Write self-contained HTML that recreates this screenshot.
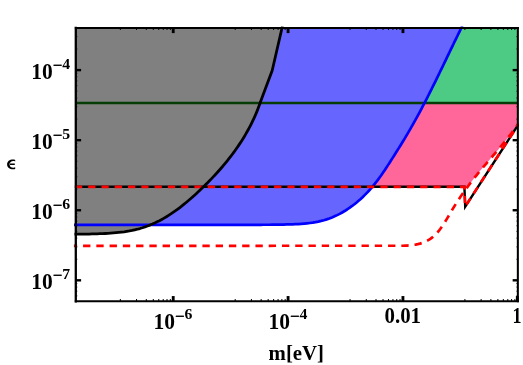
<!DOCTYPE html>
<html><head><meta charset="utf-8"><style>
html,body{margin:0;padding:0;background:#fff;}
svg{display:block;}
text{font-family:"Liberation Serif",serif;font-weight:bold;fill:#000;}
</style></head><body>
<svg width="523" height="365" viewBox="0 0 523 365">
<defs><clipPath id="cf"><rect x="75.9" y="27.9" width="441.95000000000005" height="273.35"/></clipPath><filter id="gs" filterUnits="userSpaceOnUse" x="0" y="0" width="523" height="365"><feOffset dx="0" dy="0"/></filter><clipPath id="c"><rect x="73.9" y="26.4" width="444.75000000000006" height="274.85"/></clipPath></defs>
<rect width="523" height="365" fill="#fff"/>
<g clip-path="url(#cf)">
<path d="M74.00,224.80 L255.17,224.80 L257.92,224.79 L260.70,224.78 L263.51,224.77 L266.35,224.75 L269.20,224.73 L272.07,224.70 L274.96,224.67 L277.86,224.63 L280.77,224.58 L283.69,224.53 L286.61,224.47 L289.54,224.40 L292.47,224.33 L295.39,224.22 L298.31,224.08 L301.22,223.89 L304.12,223.66 L307.01,223.37 L309.88,223.02 L312.73,222.61 L315.56,222.12 L318.36,221.56 L321.15,220.92 L323.90,220.19 L326.62,219.37 L329.30,218.45 L331.95,217.43 L334.56,216.32 L337.14,215.12 L339.68,213.84 L342.18,212.47 L344.64,211.02 L347.06,209.49 L349.44,207.89 L351.78,206.22 L354.08,204.48 L356.33,202.68 L358.54,200.82 L360.71,198.90 L362.82,196.93 L364.90,194.90 L366.92,192.83 L368.90,190.71 L370.83,188.56 L372.71,186.36 L374.54,184.13 L376.33,181.87 L378.07,179.58 L379.78,177.26 L381.45,174.92 L383.09,172.56 L384.70,170.18 L386.29,167.79 L387.86,165.38 L389.42,162.96 L390.96,160.53 L392.50,158.10 L394.04,155.67 L395.57,153.24 L397.11,150.81 L398.64,148.37 L400.16,145.93 L401.67,143.49 L403.18,141.04 L404.67,138.58 L406.14,136.11 L407.61,133.64 L409.06,131.16 L410.50,128.67 L411.93,126.17 L413.35,123.67 L414.75,121.16 L416.14,118.64 L417.53,116.12 L418.90,113.59 L420.26,111.05 L421.61,108.51 L422.95,105.97 L424.28,103.42 L425.60,100.86 L426.92,98.30 L428.22,95.74 L429.52,93.17 L430.81,90.60 L432.10,88.02 L433.38,85.44 L434.66,82.86 L435.93,80.28 L437.20,77.69 L438.46,75.10 L439.72,72.52 L440.97,69.92 L442.23,67.33 L443.48,64.74 L444.73,62.14 L445.98,59.55 L447.23,56.96 L448.47,54.36 L449.72,51.77 L450.97,49.18 L452.22,46.58 L453.48,43.99 L454.73,41.40 L455.99,38.82 L457.25,36.23 L458.51,33.65 L459.78,31.07 L461.05,28.49 L462.33,25.92 L75.90,27.90 L75.90,224.80 Z" fill="#6666ff"/>
<path d="M424.52,102.95 L425.60,100.86 L426.92,98.30 L428.22,95.74 L429.52,93.17 L430.81,90.60 L432.10,88.02 L433.38,85.44 L434.66,82.86 L435.93,80.28 L437.20,77.69 L438.46,75.10 L439.72,72.52 L440.97,69.92 L442.23,67.33 L443.48,64.74 L444.73,62.14 L445.98,59.55 L447.23,56.96 L448.47,54.36 L449.72,51.77 L450.97,49.18 L452.22,46.58 L453.48,43.99 L454.73,41.40 L455.99,38.82 L457.25,36.23 L458.51,33.65 L459.78,31.07 L461.05,28.49 L462.33,25.92 L517.85,27.90 L517.85,102.95 Z" fill="#4dcb84"/>
<path d="M372.34,186.80 L467.57,186.80 L468.37,185.72 L469.58,184.11 L470.80,182.50 L472.04,180.89 L473.28,179.29 L474.54,177.70 L475.81,176.11 L477.09,174.53 L478.38,172.95 L479.68,171.37 L480.99,169.80 L482.31,168.23 L483.63,166.66 L484.96,165.09 L486.30,163.53 L487.64,161.96 L488.98,160.40 L490.32,158.84 L491.67,157.27 L493.01,155.71 L494.36,154.14 L495.70,152.57 L497.04,151.00 L498.37,149.43 L499.70,147.85 L501.03,146.27 L502.34,144.69 L503.65,143.10 L504.95,141.50 L506.24,139.91 L507.52,138.30 L508.78,136.69 L510.04,135.07 L511.28,133.45 L512.50,131.82 L513.71,130.18 L514.90,128.53 L516.07,126.87 L517.23,125.21 L518.36,123.53 L517.85,123.53 L517.85,102.95 L424.52,102.95 L424.28,103.42 L422.95,105.97 L421.61,108.51 L420.26,111.05 L418.90,113.59 L417.53,116.12 L416.14,118.64 L414.75,121.16 L413.35,123.67 L411.93,126.17 L410.50,128.67 L409.06,131.16 L407.61,133.64 L406.14,136.11 L404.67,138.58 L403.18,141.04 L401.67,143.49 L400.16,145.93 L398.64,148.37 L397.11,150.81 L395.57,153.24 L394.04,155.67 L392.50,158.10 L390.96,160.53 L389.42,162.96 L387.86,165.38 L386.29,167.79 L384.70,170.18 L383.09,172.56 L381.45,174.92 L379.78,177.26 L378.07,179.58 L376.33,181.87 L374.54,184.13 L372.71,186.36 Z" fill="#ff6699"/>
<path d="M74.50,234.15 L80.00,234.15 L84.13,234.16 L86.71,234.09 L89.31,234.03 L91.93,233.96 L94.57,233.89 L97.23,233.81 L99.89,233.72 L102.57,233.61 L105.26,233.48 L107.96,233.34 L110.66,233.16 L113.37,232.96 L116.07,232.72 L118.77,232.45 L121.47,232.14 L124.16,231.79 L126.83,231.38 L129.49,230.93 L132.13,230.42 L134.76,229.85 L137.35,229.23 L139.93,228.53 L142.47,227.77 L144.98,226.94 L147.47,226.04 L149.92,225.08 L152.35,224.06 L154.76,222.98 L157.13,221.84 L159.48,220.65 L161.80,219.40 L164.10,218.10 L166.38,216.76 L168.63,215.36 L170.86,213.92 L173.06,212.44 L175.25,210.92 L177.41,209.36 L179.55,207.76 L181.67,206.13 L183.77,204.46 L185.85,202.77 L187.91,201.05 L189.95,199.30 L191.98,197.52 L193.99,195.73 L195.98,193.91 L197.96,192.08 L199.92,190.23 L201.86,188.36 L203.79,186.49 L205.71,184.60 L207.61,182.70 L209.49,180.78 L211.36,178.85 L213.20,176.91 L215.03,174.95 L216.84,172.98 L218.63,170.99 L220.40,168.99 L222.15,166.97 L223.88,164.93 L225.58,162.88 L227.26,160.81 L228.92,158.73 L230.56,156.63 L232.17,154.51 L233.75,152.38 L235.31,150.22 L236.84,148.05 L238.35,145.86 L239.82,143.65 L241.27,141.43 L242.69,139.18 L244.08,136.91 L245.45,134.63 L246.78,132.32 L248.07,130.00 L249.34,127.65 L250.57,125.28 L251.78,122.89 L252.94,120.48 L254.07,118.05 L255.17,115.60 L256.23,113.12 L257.26,110.62 L258.25,108.10 L259.20,105.55 L260.11,102.99 L260.99,100.39 L272.20,70.50 L282.40,26.30 L75.90,27.90 Z" fill="#808080"/>
</g>
<g clip-path="url(#c)">
<line x1="75.9" y1="102.95" x2="517.85" y2="102.95" stroke="#063d06" stroke-width="2.5"/>
<path d="M74.00,224.80 L255.17,224.80 L257.92,224.79 L260.70,224.78 L263.51,224.77 L266.35,224.75 L269.20,224.73 L272.07,224.70 L274.96,224.67 L277.86,224.63 L280.77,224.58 L283.69,224.53 L286.61,224.47 L289.54,224.40 L292.47,224.33 L295.39,224.22 L298.31,224.08 L301.22,223.89 L304.12,223.66 L307.01,223.37 L309.88,223.02 L312.73,222.61 L315.56,222.12 L318.36,221.56 L321.15,220.92 L323.90,220.19 L326.62,219.37 L329.30,218.45 L331.95,217.43 L334.56,216.32 L337.14,215.12 L339.68,213.84 L342.18,212.47 L344.64,211.02 L347.06,209.49 L349.44,207.89 L351.78,206.22 L354.08,204.48 L356.33,202.68 L358.54,200.82 L360.71,198.90 L362.82,196.93 L364.90,194.90 L366.92,192.83 L368.90,190.71 L370.83,188.56 L372.71,186.36 L374.54,184.13 L376.33,181.87 L378.07,179.58 L379.78,177.26 L381.45,174.92 L383.09,172.56 L384.70,170.18 L386.29,167.79 L387.86,165.38 L389.42,162.96 L390.96,160.53 L392.50,158.10 L394.04,155.67 L395.57,153.24 L397.11,150.81 L398.64,148.37 L400.16,145.93 L401.67,143.49 L403.18,141.04 L404.67,138.58 L406.14,136.11 L407.61,133.64 L409.06,131.16 L410.50,128.67 L411.93,126.17 L413.35,123.67 L414.75,121.16 L416.14,118.64 L417.53,116.12 L418.90,113.59 L420.26,111.05 L421.61,108.51 L422.95,105.97 L424.28,103.42 L425.60,100.86 L426.92,98.30 L428.22,95.74 L429.52,93.17 L430.81,90.60 L432.10,88.02 L433.38,85.44 L434.66,82.86 L435.93,80.28 L437.20,77.69 L438.46,75.10 L439.72,72.52 L440.97,69.92 L442.23,67.33 L443.48,64.74 L444.73,62.14 L445.98,59.55 L447.23,56.96 L448.47,54.36 L449.72,51.77 L450.97,49.18 L452.22,46.58 L453.48,43.99 L454.73,41.40 L455.99,38.82 L457.25,36.23 L458.51,33.65 L459.78,31.07 L461.05,28.49 L462.33,25.92" fill="none" stroke="#0000ff" stroke-width="2.7" stroke-linejoin="round"/>
<path d="M74.90,186.80 L464.4,186.80 L465.2,206.6 L518.3,124.6" fill="none" stroke="#000" stroke-width="2.4" stroke-linejoin="miter" stroke-miterlimit="10"/>
<path d="M74.90,186.80 L464.4,186.80 L465.2,206.6 L518.3,124.6" fill="none" stroke="#ff0000" stroke-width="2.7" stroke-dasharray="7.25 6.03" stroke-dashoffset="0"/>
<path d="M74.50,234.15 L80.00,234.15 L84.13,234.16 L86.71,234.09 L89.31,234.03 L91.93,233.96 L94.57,233.89 L97.23,233.81 L99.89,233.72 L102.57,233.61 L105.26,233.48 L107.96,233.34 L110.66,233.16 L113.37,232.96 L116.07,232.72 L118.77,232.45 L121.47,232.14 L124.16,231.79 L126.83,231.38 L129.49,230.93 L132.13,230.42 L134.76,229.85 L137.35,229.23 L139.93,228.53 L142.47,227.77 L144.98,226.94 L147.47,226.04 L149.92,225.08 L152.35,224.06 L154.76,222.98 L157.13,221.84 L159.48,220.65 L161.80,219.40 L164.10,218.10 L166.38,216.76 L168.63,215.36 L170.86,213.92 L173.06,212.44 L175.25,210.92 L177.41,209.36 L179.55,207.76 L181.67,206.13 L183.77,204.46 L185.85,202.77 L187.91,201.05 L189.95,199.30 L191.98,197.52 L193.99,195.73 L195.98,193.91 L197.96,192.08 L199.92,190.23 L201.86,188.36 L203.79,186.49 L205.71,184.60 L207.61,182.70 L209.49,180.78 L211.36,178.85 L213.20,176.91 L215.03,174.95 L216.84,172.98 L218.63,170.99 L220.40,168.99 L222.15,166.97 L223.88,164.93 L225.58,162.88 L227.26,160.81 L228.92,158.73 L230.56,156.63 L232.17,154.51 L233.75,152.38 L235.31,150.22 L236.84,148.05 L238.35,145.86 L239.82,143.65 L241.27,141.43 L242.69,139.18 L244.08,136.91 L245.45,134.63 L246.78,132.32 L248.07,130.00 L249.34,127.65 L250.57,125.28 L251.78,122.89 L252.94,120.48 L254.07,118.05 L255.17,115.60 L256.23,113.12 L257.26,110.62 L258.25,108.10 L259.20,105.55 L260.11,102.99 L260.99,100.39 L272.20,70.50 L282.40,26.30" fill="none" stroke="#000" stroke-width="2.8" stroke-linejoin="round"/>
<path d="M69.80,245.80 L395.13,245.76 L396.97,245.78 L398.89,245.79 L400.88,245.78 L402.92,245.74 L405.01,245.67 L407.13,245.56 L409.26,245.41 L411.41,245.20 L413.55,244.92 L415.68,244.58 L417.77,244.16 L419.83,243.66 L421.83,243.07 L423.76,242.38 L425.62,241.58 L427.40,240.68 L429.10,239.68 L430.72,238.58 L432.28,237.39 L433.77,236.12 L435.20,234.77 L436.57,233.35 L437.89,231.87 L439.17,230.32 L440.40,228.73 L441.60,227.08 L442.76,225.40 L443.89,223.68 L445.00,221.93 L446.09,220.16 L447.16,218.37 L448.22,216.57 L449.28,214.76 L450.34,212.96 L451.39,211.17 L452.46,209.38 L453.53,207.61 L454.62,205.86 L455.71,204.12 L456.81,202.39 L457.92,200.68 L459.04,198.97 L460.17,197.28 L461.31,195.60 L462.46,193.93 L463.62,192.27 L464.79,190.62 L465.97,188.98 L467.16,187.35 L468.37,185.72 L469.58,184.11 L470.80,182.50 L472.04,180.89 L473.28,179.29 L474.54,177.70 L475.81,176.11 L477.09,174.53 L478.38,172.95 L479.68,171.37 L480.99,169.80 L482.31,168.23 L483.63,166.66 L484.96,165.09 L486.30,163.53 L487.64,161.96 L488.98,160.40 L490.32,158.84 L491.67,157.27 L493.01,155.71 L494.36,154.14 L495.70,152.57 L497.04,151.00 L498.37,149.43 L499.70,147.85 L501.03,146.27 L502.34,144.69 L503.65,143.10 L504.95,141.50 L506.24,139.91 L507.52,138.30 L508.78,136.69 L510.04,135.07 L511.28,133.45 L512.50,131.82 L513.71,130.18 L514.90,128.53 L516.07,126.87 L517.23,125.21 L518.36,123.53" fill="none" stroke="#ff0000" stroke-width="2.7" stroke-dasharray="7.35 5.91"/>
</g>
<g stroke="#000" stroke-linecap="square">
<line x1="75.80000000000001" y1="27.9" x2="75.80000000000001" y2="301.25" stroke-width="2.3"/>
<line x1="517.85" y1="27.9" x2="517.85" y2="301.25" stroke-width="2.05"/>
<line x1="75.9" y1="27.9" x2="517.85" y2="27.9" stroke-width="2.05"/>
<line x1="75.9" y1="301.25" x2="517.85" y2="301.25" stroke-width="2.15"/>
</g>
<line x1="517.30" y1="301.25" x2="517.30" y2="296.05" stroke="#000" stroke-width="2.85"/>
<line x1="464.92" y1="301.25" x2="464.92" y2="299.00" stroke="#000" stroke-width="1"/>
<line x1="464.92" y1="27.90" x2="464.92" y2="30.00" stroke="#000" stroke-width="1"/>
<line x1="481.14" y1="301.25" x2="481.14" y2="299.00" stroke="#000" stroke-width="1"/>
<line x1="481.14" y1="27.90" x2="481.14" y2="30.00" stroke="#000" stroke-width="1"/>
<line x1="490.89" y1="301.25" x2="490.89" y2="299.00" stroke="#000" stroke-width="1"/>
<line x1="490.89" y1="27.90" x2="490.89" y2="30.00" stroke="#000" stroke-width="1"/>
<line x1="497.88" y1="301.25" x2="497.88" y2="299.00" stroke="#000" stroke-width="1"/>
<line x1="497.88" y1="27.90" x2="497.88" y2="30.00" stroke="#000" stroke-width="1"/>
<line x1="503.34" y1="301.25" x2="503.34" y2="299.00" stroke="#000" stroke-width="1"/>
<line x1="503.34" y1="27.90" x2="503.34" y2="30.00" stroke="#000" stroke-width="1"/>
<line x1="507.81" y1="301.25" x2="507.81" y2="299.00" stroke="#000" stroke-width="1"/>
<line x1="507.81" y1="27.90" x2="507.81" y2="30.00" stroke="#000" stroke-width="1"/>
<line x1="511.60" y1="301.25" x2="511.60" y2="299.00" stroke="#000" stroke-width="1"/>
<line x1="511.60" y1="27.90" x2="511.60" y2="30.00" stroke="#000" stroke-width="1"/>
<line x1="514.89" y1="301.25" x2="514.89" y2="299.00" stroke="#000" stroke-width="1"/>
<line x1="514.89" y1="27.90" x2="514.89" y2="30.00" stroke="#000" stroke-width="1"/>
<line x1="402.94" y1="301.25" x2="402.94" y2="296.05" stroke="#000" stroke-width="2.85"/>
<line x1="402.94" y1="27.90" x2="402.94" y2="33.10" stroke="#000" stroke-width="2.85"/>
<line x1="350.06" y1="301.25" x2="350.06" y2="299.00" stroke="#000" stroke-width="1"/>
<line x1="350.06" y1="27.90" x2="350.06" y2="30.00" stroke="#000" stroke-width="1"/>
<line x1="366.28" y1="301.25" x2="366.28" y2="299.00" stroke="#000" stroke-width="1"/>
<line x1="366.28" y1="27.90" x2="366.28" y2="30.00" stroke="#000" stroke-width="1"/>
<line x1="376.03" y1="301.25" x2="376.03" y2="299.00" stroke="#000" stroke-width="1"/>
<line x1="376.03" y1="27.90" x2="376.03" y2="30.00" stroke="#000" stroke-width="1"/>
<line x1="383.02" y1="301.25" x2="383.02" y2="299.00" stroke="#000" stroke-width="1"/>
<line x1="383.02" y1="27.90" x2="383.02" y2="30.00" stroke="#000" stroke-width="1"/>
<line x1="388.48" y1="301.25" x2="388.48" y2="299.00" stroke="#000" stroke-width="1"/>
<line x1="388.48" y1="27.90" x2="388.48" y2="30.00" stroke="#000" stroke-width="1"/>
<line x1="392.95" y1="301.25" x2="392.95" y2="299.00" stroke="#000" stroke-width="1"/>
<line x1="392.95" y1="27.90" x2="392.95" y2="30.00" stroke="#000" stroke-width="1"/>
<line x1="396.74" y1="301.25" x2="396.74" y2="299.00" stroke="#000" stroke-width="1"/>
<line x1="396.74" y1="27.90" x2="396.74" y2="30.00" stroke="#000" stroke-width="1"/>
<line x1="400.03" y1="301.25" x2="400.03" y2="299.00" stroke="#000" stroke-width="1"/>
<line x1="400.03" y1="27.90" x2="400.03" y2="30.00" stroke="#000" stroke-width="1"/>
<line x1="288.08" y1="301.25" x2="288.08" y2="296.05" stroke="#000" stroke-width="2.85"/>
<line x1="288.08" y1="27.90" x2="288.08" y2="33.10" stroke="#000" stroke-width="2.85"/>
<line x1="235.20" y1="301.25" x2="235.20" y2="299.00" stroke="#000" stroke-width="1"/>
<line x1="235.20" y1="27.90" x2="235.20" y2="30.00" stroke="#000" stroke-width="1"/>
<line x1="251.42" y1="301.25" x2="251.42" y2="299.00" stroke="#000" stroke-width="1"/>
<line x1="251.42" y1="27.90" x2="251.42" y2="30.00" stroke="#000" stroke-width="1"/>
<line x1="261.17" y1="301.25" x2="261.17" y2="299.00" stroke="#000" stroke-width="1"/>
<line x1="261.17" y1="27.90" x2="261.17" y2="30.00" stroke="#000" stroke-width="1"/>
<line x1="268.16" y1="301.25" x2="268.16" y2="299.00" stroke="#000" stroke-width="1"/>
<line x1="268.16" y1="27.90" x2="268.16" y2="30.00" stroke="#000" stroke-width="1"/>
<line x1="273.62" y1="301.25" x2="273.62" y2="299.00" stroke="#000" stroke-width="1"/>
<line x1="273.62" y1="27.90" x2="273.62" y2="30.00" stroke="#000" stroke-width="1"/>
<line x1="278.09" y1="301.25" x2="278.09" y2="299.00" stroke="#000" stroke-width="1"/>
<line x1="278.09" y1="27.90" x2="278.09" y2="30.00" stroke="#000" stroke-width="1"/>
<line x1="281.88" y1="301.25" x2="281.88" y2="299.00" stroke="#000" stroke-width="1"/>
<line x1="281.88" y1="27.90" x2="281.88" y2="30.00" stroke="#000" stroke-width="1"/>
<line x1="285.17" y1="301.25" x2="285.17" y2="299.00" stroke="#000" stroke-width="1"/>
<line x1="285.17" y1="27.90" x2="285.17" y2="30.00" stroke="#000" stroke-width="1"/>
<line x1="173.22" y1="301.25" x2="173.22" y2="296.05" stroke="#000" stroke-width="2.85"/>
<line x1="173.22" y1="27.90" x2="173.22" y2="33.10" stroke="#000" stroke-width="2.85"/>
<line x1="120.34" y1="301.25" x2="120.34" y2="299.00" stroke="#000" stroke-width="1"/>
<line x1="120.34" y1="27.90" x2="120.34" y2="30.00" stroke="#000" stroke-width="1"/>
<line x1="136.56" y1="301.25" x2="136.56" y2="299.00" stroke="#000" stroke-width="1"/>
<line x1="136.56" y1="27.90" x2="136.56" y2="30.00" stroke="#000" stroke-width="1"/>
<line x1="146.31" y1="301.25" x2="146.31" y2="299.00" stroke="#000" stroke-width="1"/>
<line x1="146.31" y1="27.90" x2="146.31" y2="30.00" stroke="#000" stroke-width="1"/>
<line x1="153.30" y1="301.25" x2="153.30" y2="299.00" stroke="#000" stroke-width="1"/>
<line x1="153.30" y1="27.90" x2="153.30" y2="30.00" stroke="#000" stroke-width="1"/>
<line x1="158.76" y1="301.25" x2="158.76" y2="299.00" stroke="#000" stroke-width="1"/>
<line x1="158.76" y1="27.90" x2="158.76" y2="30.00" stroke="#000" stroke-width="1"/>
<line x1="163.23" y1="301.25" x2="163.23" y2="299.00" stroke="#000" stroke-width="1"/>
<line x1="163.23" y1="27.90" x2="163.23" y2="30.00" stroke="#000" stroke-width="1"/>
<line x1="167.02" y1="301.25" x2="167.02" y2="299.00" stroke="#000" stroke-width="1"/>
<line x1="167.02" y1="27.90" x2="167.02" y2="30.00" stroke="#000" stroke-width="1"/>
<line x1="170.31" y1="301.25" x2="170.31" y2="299.00" stroke="#000" stroke-width="1"/>
<line x1="170.31" y1="27.90" x2="170.31" y2="30.00" stroke="#000" stroke-width="1"/>
<line x1="75.90" y1="70.10" x2="81.10" y2="70.10" stroke="#000" stroke-width="2.4"/>
<line x1="517.85" y1="70.10" x2="512.65" y2="70.10" stroke="#000" stroke-width="2.4"/>
<line x1="75.90" y1="140.17" x2="81.10" y2="140.17" stroke="#000" stroke-width="2.4"/>
<line x1="517.85" y1="140.17" x2="512.65" y2="140.17" stroke="#000" stroke-width="2.4"/>
<line x1="75.90" y1="210.24" x2="81.10" y2="210.24" stroke="#000" stroke-width="2.4"/>
<line x1="517.85" y1="210.24" x2="512.65" y2="210.24" stroke="#000" stroke-width="2.4"/>
<line x1="75.90" y1="280.31" x2="81.10" y2="280.31" stroke="#000" stroke-width="2.4"/>
<line x1="517.85" y1="280.31" x2="512.65" y2="280.31" stroke="#000" stroke-width="2.4"/>
<line x1="75.90" y1="49.01" x2="77.35" y2="49.01" stroke="#000" stroke-width="0.8"/>
<line x1="517.85" y1="49.01" x2="516.40" y2="49.01" stroke="#000" stroke-width="0.8"/>
<line x1="75.90" y1="36.67" x2="77.35" y2="36.67" stroke="#000" stroke-width="0.8"/>
<line x1="517.85" y1="36.67" x2="516.40" y2="36.67" stroke="#000" stroke-width="0.8"/>
<line x1="75.90" y1="27.91" x2="77.35" y2="27.91" stroke="#000" stroke-width="0.8"/>
<line x1="517.85" y1="27.91" x2="516.40" y2="27.91" stroke="#000" stroke-width="0.8"/>
<line x1="75.90" y1="119.08" x2="77.35" y2="119.08" stroke="#000" stroke-width="0.8"/>
<line x1="517.85" y1="119.08" x2="516.40" y2="119.08" stroke="#000" stroke-width="0.8"/>
<line x1="75.90" y1="106.74" x2="77.35" y2="106.74" stroke="#000" stroke-width="0.8"/>
<line x1="517.85" y1="106.74" x2="516.40" y2="106.74" stroke="#000" stroke-width="0.8"/>
<line x1="75.90" y1="97.98" x2="77.35" y2="97.98" stroke="#000" stroke-width="0.8"/>
<line x1="517.85" y1="97.98" x2="516.40" y2="97.98" stroke="#000" stroke-width="0.8"/>
<line x1="75.90" y1="91.19" x2="77.35" y2="91.19" stroke="#000" stroke-width="0.8"/>
<line x1="517.85" y1="91.19" x2="516.40" y2="91.19" stroke="#000" stroke-width="0.8"/>
<line x1="75.90" y1="85.64" x2="77.35" y2="85.64" stroke="#000" stroke-width="0.8"/>
<line x1="517.85" y1="85.64" x2="516.40" y2="85.64" stroke="#000" stroke-width="0.8"/>
<line x1="75.90" y1="80.95" x2="77.35" y2="80.95" stroke="#000" stroke-width="0.8"/>
<line x1="517.85" y1="80.95" x2="516.40" y2="80.95" stroke="#000" stroke-width="0.8"/>
<line x1="75.90" y1="76.89" x2="77.35" y2="76.89" stroke="#000" stroke-width="0.8"/>
<line x1="517.85" y1="76.89" x2="516.40" y2="76.89" stroke="#000" stroke-width="0.8"/>
<line x1="75.90" y1="73.31" x2="77.35" y2="73.31" stroke="#000" stroke-width="0.8"/>
<line x1="517.85" y1="73.31" x2="516.40" y2="73.31" stroke="#000" stroke-width="0.8"/>
<line x1="75.90" y1="189.15" x2="77.35" y2="189.15" stroke="#000" stroke-width="0.8"/>
<line x1="517.85" y1="189.15" x2="516.40" y2="189.15" stroke="#000" stroke-width="0.8"/>
<line x1="75.90" y1="176.81" x2="77.35" y2="176.81" stroke="#000" stroke-width="0.8"/>
<line x1="517.85" y1="176.81" x2="516.40" y2="176.81" stroke="#000" stroke-width="0.8"/>
<line x1="75.90" y1="168.05" x2="77.35" y2="168.05" stroke="#000" stroke-width="0.8"/>
<line x1="517.85" y1="168.05" x2="516.40" y2="168.05" stroke="#000" stroke-width="0.8"/>
<line x1="75.90" y1="161.26" x2="77.35" y2="161.26" stroke="#000" stroke-width="0.8"/>
<line x1="517.85" y1="161.26" x2="516.40" y2="161.26" stroke="#000" stroke-width="0.8"/>
<line x1="75.90" y1="155.71" x2="77.35" y2="155.71" stroke="#000" stroke-width="0.8"/>
<line x1="517.85" y1="155.71" x2="516.40" y2="155.71" stroke="#000" stroke-width="0.8"/>
<line x1="75.90" y1="151.02" x2="77.35" y2="151.02" stroke="#000" stroke-width="0.8"/>
<line x1="517.85" y1="151.02" x2="516.40" y2="151.02" stroke="#000" stroke-width="0.8"/>
<line x1="75.90" y1="146.96" x2="77.35" y2="146.96" stroke="#000" stroke-width="0.8"/>
<line x1="517.85" y1="146.96" x2="516.40" y2="146.96" stroke="#000" stroke-width="0.8"/>
<line x1="75.90" y1="143.38" x2="77.35" y2="143.38" stroke="#000" stroke-width="0.8"/>
<line x1="517.85" y1="143.38" x2="516.40" y2="143.38" stroke="#000" stroke-width="0.8"/>
<line x1="75.90" y1="259.22" x2="77.35" y2="259.22" stroke="#000" stroke-width="0.8"/>
<line x1="517.85" y1="259.22" x2="516.40" y2="259.22" stroke="#000" stroke-width="0.8"/>
<line x1="75.90" y1="246.88" x2="77.35" y2="246.88" stroke="#000" stroke-width="0.8"/>
<line x1="517.85" y1="246.88" x2="516.40" y2="246.88" stroke="#000" stroke-width="0.8"/>
<line x1="75.90" y1="238.12" x2="77.35" y2="238.12" stroke="#000" stroke-width="0.8"/>
<line x1="517.85" y1="238.12" x2="516.40" y2="238.12" stroke="#000" stroke-width="0.8"/>
<line x1="75.90" y1="231.33" x2="77.35" y2="231.33" stroke="#000" stroke-width="0.8"/>
<line x1="517.85" y1="231.33" x2="516.40" y2="231.33" stroke="#000" stroke-width="0.8"/>
<line x1="75.90" y1="225.78" x2="77.35" y2="225.78" stroke="#000" stroke-width="0.8"/>
<line x1="517.85" y1="225.78" x2="516.40" y2="225.78" stroke="#000" stroke-width="0.8"/>
<line x1="75.90" y1="221.09" x2="77.35" y2="221.09" stroke="#000" stroke-width="0.8"/>
<line x1="517.85" y1="221.09" x2="516.40" y2="221.09" stroke="#000" stroke-width="0.8"/>
<line x1="75.90" y1="217.03" x2="77.35" y2="217.03" stroke="#000" stroke-width="0.8"/>
<line x1="517.85" y1="217.03" x2="516.40" y2="217.03" stroke="#000" stroke-width="0.8"/>
<line x1="75.90" y1="213.45" x2="77.35" y2="213.45" stroke="#000" stroke-width="0.8"/>
<line x1="517.85" y1="213.45" x2="516.40" y2="213.45" stroke="#000" stroke-width="0.8"/>
<line x1="75.90" y1="295.85" x2="77.35" y2="295.85" stroke="#000" stroke-width="0.8"/>
<line x1="517.85" y1="295.85" x2="516.40" y2="295.85" stroke="#000" stroke-width="0.8"/>
<line x1="75.90" y1="291.16" x2="77.35" y2="291.16" stroke="#000" stroke-width="0.8"/>
<line x1="517.85" y1="291.16" x2="516.40" y2="291.16" stroke="#000" stroke-width="0.8"/>
<line x1="75.90" y1="287.10" x2="77.35" y2="287.10" stroke="#000" stroke-width="0.8"/>
<line x1="517.85" y1="287.10" x2="516.40" y2="287.10" stroke="#000" stroke-width="0.8"/>
<line x1="75.90" y1="283.52" x2="77.35" y2="283.52" stroke="#000" stroke-width="0.8"/>
<line x1="517.85" y1="283.52" x2="516.40" y2="283.52" stroke="#000" stroke-width="0.8"/>

<g filter="url(#gs)">
<text transform="translate(31.30,78.80) scale(0.943,1)" font-size="22.8">10</text><text stroke="#000" stroke-width="0.25" transform="translate(52.80,71.30) scale(1.000,1)" font-size="17.0">−</text><text transform="translate(62.30,68.85) scale(1.060,1)" font-size="14.9">4</text>
<text transform="translate(31.30,148.80) scale(0.943,1)" font-size="22.8">10</text><text stroke="#000" stroke-width="0.25" transform="translate(52.80,141.30) scale(1.000,1)" font-size="17.0">−</text><text transform="translate(62.30,138.85) scale(1.060,1)" font-size="14.9">5</text>
<text transform="translate(31.30,218.80) scale(0.943,1)" font-size="22.8">10</text><text stroke="#000" stroke-width="0.25" transform="translate(52.80,211.30) scale(1.000,1)" font-size="17.0">−</text><text transform="translate(62.30,208.85) scale(1.060,1)" font-size="14.9">6</text>
<text transform="translate(31.30,288.80) scale(0.943,1)" font-size="22.8">10</text><text stroke="#000" stroke-width="0.25" transform="translate(52.80,281.30) scale(1.000,1)" font-size="17.0">−</text><text transform="translate(62.30,278.85) scale(1.060,1)" font-size="14.9">7</text>
<text transform="translate(153.40,329.10) scale(0.943,1)" font-size="22.8">10</text><text stroke="#000" stroke-width="0.25" transform="translate(174.90,321.60) scale(1.000,1)" font-size="17.0">−</text><text transform="translate(184.40,319.15) scale(1.060,1)" font-size="14.9">6</text>
<text transform="translate(268.50,329.10) scale(0.943,1)" font-size="22.8">10</text><text stroke="#000" stroke-width="0.25" transform="translate(290.00,321.60) scale(1.000,1)" font-size="17.0">−</text><text transform="translate(299.50,319.15) scale(1.060,1)" font-size="14.9">4</text>
<text transform="translate(384.50,322.65) scale(0.925,1)" font-size="22.6">0.01</text>
<text transform="translate(512.50,322.65) scale(0.800,1)" font-size="22.6">1</text>
<text x="268.6" y="359.7" font-size="20.8">m[eV]</text>
<path d="M15.2,159.9 C14.6,159.6 13.8,159.5 13,159.5 C9.6,159.5 7.1,161.5 7.1,164.4 C7.1,167.3 9.6,169.3 13,169.3 C13.8,169.3 14.6,169.2 15.2,168.9 L15.2,167.35 C14.7,167.6 14.1,167.75 13.4,167.75 C11.1,167.75 9.7,166.5 9.7,164.4 C9.7,162.3 11.1,161.05 13.4,161.05 C14.1,161.05 14.7,161.2 15.2,161.45 Z M9.3,163.6 H14.8 V165.0 H9.3 Z" fill="#000"/>
</g>
</svg>
</body></html>
